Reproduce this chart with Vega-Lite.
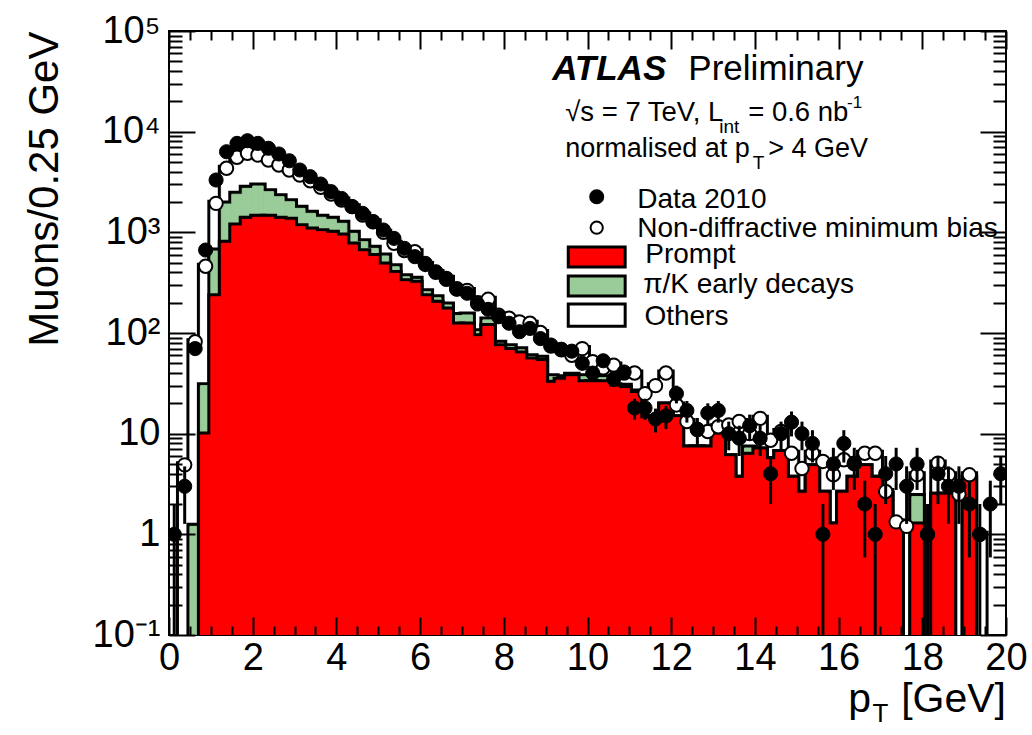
{
"$schema": "https://vega.github.io/schema/vega-lite/v6.json",
"width": 837, "height": 604,
"autosize": {"type": "none"},
"padding": {"left": 169, "top": 31, "right": 26, "bottom": 100},
"background": "white",
"config": {"view": {"stroke": "black", "strokeWidth": 2}, "font": "Liberation Sans", "text": {"font": "Liberation Sans", "color": "black"}},
"datasets": {"bins": [
{"lo":0,"hi":0.25,"c":0.125,"prompt":0,"prompt_pik":0,"mc":0,"data":1,"elo":0.1,"ehi":2},
{"lo":0.25,"hi":0.5,"c":0.375,"prompt":0,"prompt_pik":0,"mc":4.9,"data":3,"elo":1.27,"ehi":4.73},
{"lo":0.5,"hi":0.75,"c":0.625,"prompt":0,"prompt_pik":1.2,"mc":82,"data":70,"elo":61.6,"ehi":78.4},
{"lo":0.75,"hi":1,"c":0.875,"prompt":9.7,"prompt_pik":30,"mc":460,"data":667,"elo":641,"ehi":693},
{"lo":1,"hi":1.25,"c":1.125,"prompt":229,"prompt_pik":652,"mc":1940,"data":3310,"elo":3252,"ehi":3368},
{"lo":1.25,"hi":1.5,"c":1.375,"prompt":778,"prompt_pik":1910,"mc":4325,"data":6320,"elo":6240,"ehi":6400},
{"lo":1.5,"hi":1.75,"c":1.625,"prompt":1157,"prompt_pik":2390,"mc":5560,"data":7650,"elo":7563,"ehi":7737},
{"lo":1.75,"hi":2,"c":1.875,"prompt":1346,"prompt_pik":2735,"mc":6100,"data":8130,"elo":8040,"ehi":8220},
{"lo":2,"hi":2.25,"c":2.125,"prompt":1410,"prompt_pik":2885,"mc":5860,"data":7650,"elo":7563,"ehi":7737},
{"lo":2.25,"hi":2.5,"c":2.375,"prompt":1410,"prompt_pik":2535,"mc":5220,"data":6840,"elo":6757,"ehi":6923},
{"lo":2.5,"hi":2.75,"c":2.625,"prompt":1346,"prompt_pik":2260,"mc":4660,"data":6000,"elo":5923,"ehi":6077},
{"lo":2.75,"hi":3,"c":2.875,"prompt":1320,"prompt_pik":2014,"mc":4160,"data":5140,"elo":5068,"ehi":5212},
{"lo":3,"hi":3.25,"c":3.125,"prompt":1138,"prompt_pik":1730,"mc":3705,"data":4160,"elo":4096,"ehi":4224},
{"lo":3.25,"hi":3.5,"c":3.375,"prompt":1054,"prompt_pik":1544,"mc":3255,"data":3570,"elo":3510,"ehi":3630},
{"lo":3.5,"hi":3.75,"c":3.625,"prompt":1015,"prompt_pik":1410,"mc":2800,"data":3020,"elo":2965,"ehi":3075},
{"lo":3.75,"hi":4,"c":3.875,"prompt":977,"prompt_pik":1346,"mc":2405,"data":2535,"elo":2485,"ehi":2585},
{"lo":4,"hi":4.25,"c":4.125,"prompt":918,"prompt_pik":1230,"mc":2095,"data":2170,"elo":2123,"ehi":2217},
{"lo":4.25,"hi":4.5,"c":4.375,"prompt":748,"prompt_pik":977,"mc":1800,"data":1800,"elo":1758,"ehi":1842},
{"lo":4.5,"hi":4.75,"c":4.625,"prompt":641,"prompt_pik":807,"mc":1486,"data":1544,"elo":1505,"ehi":1583},
{"lo":4.75,"hi":5,"c":4.875,"prompt":576,"prompt_pik":693,"mc":1275,"data":1275,"elo":1239,"ehi":1311},
{"lo":5,"hi":5.25,"c":5.125,"prompt":473,"prompt_pik":582,"mc":1000,"data":1054,"elo":1022,"ehi":1086},
{"lo":5.25,"hi":5.5,"c":5.375,"prompt":391,"prompt_pik":455,"mc":778,"data":871,"elo":841,"ehi":901},
{"lo":5.5,"hi":5.75,"c":5.625,"prompt":323,"prompt_pik":362,"mc":660,"data":693,"elo":667,"ehi":719},
{"lo":5.75,"hi":6,"c":5.875,"prompt":312,"prompt_pik":341,"mc":641,"data":573,"elo":549,"ehi":597},
{"lo":6,"hi":6.25,"c":6.125,"prompt":229,"prompt_pik":257,"mc":480,"data":492,"elo":470,"ehi":514},
{"lo":6.25,"hi":6.5,"c":6.375,"prompt":197,"prompt_pik":224,"mc":400,"data":406,"elo":386,"ehi":426},
{"lo":6.5,"hi":6.75,"c":6.625,"prompt":169,"prompt_pik":190,"mc":349,"data":340,"elo":322,"ehi":358},
{"lo":6.75,"hi":7,"c":6.875,"prompt":120,"prompt_pik":149,"mc":275,"data":272,"elo":256,"ehi":288},
{"lo":7,"hi":7.25,"c":7.125,"prompt":120,"prompt_pik":151,"mc":265,"data":248,"elo":232,"ehi":264},
{"lo":7.25,"hi":7.5,"c":7.375,"prompt":92,"prompt_pik":103,"mc":200,"data":194,"elo":180,"ehi":208},
{"lo":7.5,"hi":7.75,"c":7.625,"prompt":116,"prompt_pik":135,"mc":216,"data":172,"elo":159,"ehi":185},
{"lo":7.75,"hi":8,"c":7.875,"prompt":73,"prompt_pik":79,"mc":150,"data":145,"elo":133,"ehi":157},
{"lo":8,"hi":8.25,"c":8.125,"prompt":67,"prompt_pik":73,"mc":140,"data":125,"elo":114,"ehi":136},
{"lo":8.25,"hi":8.5,"c":8.375,"prompt":62,"prompt_pik":68,"mc":129,"data":103,"elo":93,"ehi":113},
{"lo":8.5,"hi":8.75,"c":8.625,"prompt":54,"prompt_pik":58,"mc":125,"data":111,"elo":100.5,"ehi":121.5},
{"lo":8.75,"hi":9,"c":8.875,"prompt":52,"prompt_pik":56,"mc":101,"data":88,"elo":78.6,"ehi":97.4},
{"lo":9,"hi":9.25,"c":9.125,"prompt":31.6,"prompt_pik":36.8,"mc":74,"data":76,"elo":67.3,"ehi":84.7},
{"lo":9.25,"hi":9.5,"c":9.375,"prompt":34,"prompt_pik":36,"mc":68,"data":69,"elo":60.7,"ehi":77.3},
{"lo":9.5,"hi":9.75,"c":9.625,"prompt":36.8,"prompt_pik":38,"mc":60,"data":66,"elo":57.9,"ehi":74.1},
{"lo":9.75,"hi":10,"c":9.875,"prompt":32,"prompt_pik":36.8,"mc":70,"data":50,"elo":42.9,"ehi":57.1},
{"lo":10,"hi":10.25,"c":10.125,"prompt":32,"prompt_pik":34,"mc":52,"data":40,"elo":33.7,"ehi":46.3},
{"lo":10.25,"hi":10.5,"c":10.375,"prompt":32,"prompt_pik":36,"mc":45,"data":53,"elo":45.7,"ehi":60.3},
{"lo":10.5,"hi":10.75,"c":10.625,"prompt":29,"prompt_pik":30,"mc":48,"data":35,"elo":29.1,"ehi":40.9},
{"lo":10.75,"hi":11,"c":10.875,"prompt":28,"prompt_pik":29.5,"mc":40,"data":41,"elo":34.6,"ehi":47.4},
{"lo":11,"hi":11.25,"c":11.125,"prompt":25,"prompt_pik":26,"mc":40,"data":18,"elo":13.76,"ehi":22.24},
{"lo":11.25,"hi":11.5,"c":11.375,"prompt":14,"prompt_pik":14.5,"mc":25,"data":18,"elo":13.76,"ehi":22.24},
{"lo":11.5,"hi":11.75,"c":11.625,"prompt":14,"prompt_pik":14,"mc":30,"data":14,"elo":10.26,"ehi":17.74},
{"lo":11.75,"hi":12,"c":11.875,"prompt":19.3,"prompt_pik":19.3,"mc":40,"data":15,"elo":11.13,"ehi":18.87},
{"lo":12,"hi":12.25,"c":12.125,"prompt":14.4,"prompt_pik":14.4,"mc":19.3,"data":25,"elo":20,"ehi":30},
{"lo":12.25,"hi":12.5,"c":12.375,"prompt":7.2,"prompt_pik":7.2,"mc":13.2,"data":17,"elo":12.88,"ehi":21.12},
{"lo":12.5,"hi":12.75,"c":12.625,"prompt":7.2,"prompt_pik":7.2,"mc":11,"data":11,"elo":7.68,"ehi":14.32},
{"lo":12.75,"hi":13,"c":12.875,"prompt":7.2,"prompt_pik":7.2,"mc":10.5,"data":16,"elo":12,"ehi":20},
{"lo":13,"hi":13.25,"c":13.125,"prompt":9.7,"prompt_pik":9.7,"mc":11.7,"data":17,"elo":12.88,"ehi":21.12},
{"lo":13.25,"hi":13.5,"c":13.375,"prompt":5.9,"prompt_pik":5.9,"mc":12.2,"data":10,"elo":6.84,"ehi":13.16},
{"lo":13.5,"hi":13.75,"c":13.625,"prompt":3.6,"prompt_pik":3.6,"mc":13.2,"data":9,"elo":6,"ehi":12},
{"lo":13.75,"hi":14,"c":13.875,"prompt":6.1,"prompt_pik":7.2,"mc":10,"data":12,"elo":8.54,"ehi":15.46},
{"lo":14,"hi":14.25,"c":14.125,"prompt":6.9,"prompt_pik":6.9,"mc":14.2,"data":9,"elo":6,"ehi":12},
{"lo":14.25,"hi":14.5,"c":14.375,"prompt":5.5,"prompt_pik":5.5,"mc":8.6,"data":4,"elo":2,"ehi":6},
{"lo":14.5,"hi":14.75,"c":14.625,"prompt":6.5,"prompt_pik":6.5,"mc":10.5,"data":10,"elo":6.84,"ehi":13.16},
{"lo":14.75,"hi":15,"c":14.875,"prompt":3.6,"prompt_pik":3.6,"mc":6.4,"data":13,"elo":9.39,"ehi":16.61},
{"lo":15,"hi":15.25,"c":15.125,"prompt":2.56,"prompt_pik":2.56,"mc":4.5,"data":10,"elo":6.84,"ehi":13.16},
{"lo":15.25,"hi":15.5,"c":15.375,"prompt":4.7,"prompt_pik":4.7,"mc":6.4,"data":8,"elo":5.17,"ehi":10.83},
{"lo":15.5,"hi":15.75,"c":15.625,"prompt":2.56,"prompt_pik":2.56,"mc":5.3,"data":1,"elo":0.1,"ehi":2},
{"lo":15.75,"hi":16,"c":15.875,"prompt":1.24,"prompt_pik":1.24,"mc":3.9,"data":5,"elo":2.76,"ehi":7.24},
{"lo":16,"hi":16.25,"c":16.125,"prompt":2.56,"prompt_pik":2.56,"mc":5.5,"data":8,"elo":5.17,"ehi":10.83},
{"lo":16.25,"hi":16.5,"c":16.375,"prompt":3.6,"prompt_pik":3.6,"mc":5.1,"data":5,"elo":2.76,"ehi":7.24},
{"lo":16.5,"hi":16.75,"c":16.625,"prompt":4.7,"prompt_pik":4.7,"mc":6.4,"data":2,"elo":0.59,"ehi":3.41},
{"lo":16.75,"hi":17,"c":16.875,"prompt":3.6,"prompt_pik":3.6,"mc":6.4,"data":1,"elo":0.1,"ehi":2},
{"lo":17,"hi":17.25,"c":17.125,"prompt":2.5,"prompt_pik":2.5,"mc":2.66,"data":4,"elo":2,"ehi":6},
{"lo":17.25,"hi":17.5,"c":17.375,"prompt":1.29,"prompt_pik":1.29,"mc":1.33,"data":5,"elo":2.76,"ehi":7.24},
{"lo":17.5,"hi":17.75,"c":17.625,"prompt":0,"prompt_pik":0,"mc":1.2,"data":3,"elo":1.27,"ehi":4.73},
{"lo":17.75,"hi":18,"c":17.875,"prompt":1.24,"prompt_pik":2.37,"mc":3.9,"data":5,"elo":2.76,"ehi":7.24},
{"lo":18,"hi":18.25,"c":18.125,"prompt":0,"prompt_pik":0,"mc":1,"data":1,"elo":0.1,"ehi":2},
{"lo":18.25,"hi":18.5,"c":18.375,"prompt":2.45,"prompt_pik":2.45,"mc":5.1,"data":4,"elo":2,"ehi":6},
{"lo":18.5,"hi":18.75,"c":18.625,"prompt":2.45,"prompt_pik":2.45,"mc":3.9,"data":3,"elo":1.27,"ehi":4.73},
{"lo":18.75,"hi":19,"c":18.875,"prompt":0,"prompt_pik":0,"mc":2.5,"data":3,"elo":1.27,"ehi":4.73},
{"lo":19,"hi":19.25,"c":19.125,"prompt":3.6,"prompt_pik":3.6,"mc":3.9,"data":2,"elo":0.59,"ehi":3.41},
{"lo":19.25,"hi":19.5,"c":19.375,"prompt":0,"prompt_pik":0,"mc":1,"data":1,"elo":0.1,"ehi":2},
{"lo":19.5,"hi":19.75,"c":19.625,"prompt":0,"prompt_pik":0,"mc":0,"data":2,"elo":0.59,"ehi":3.41},
{"lo":19.75,"hi":20,"c":19.875,"prompt":0,"prompt_pik":0,"mc":0,"data":4,"elo":2,"ehi":6}
]},
"layer": [
{"data": {"name": "bins"}, "transform": [{"filter": "datum.mc > 0"}], "mark": {"type": "bar", "fill": "black", "stroke": "black", "strokeWidth": 7, "clip": true},
 "encoding": {
  "x": {"field": "lo", "type": "quantitative", "scale": {"domain": [0, 20], "nice": false, "zero": false},
   "axis": {"orient": "bottom", "values": [0,0.5,1,1.5,2,2.5,3,3.5,4,4.5,5,5.5,6,6.5,7,7.5,8,8.5,9,9.5,10,10.5,11,11.5,12,12.5,13,13.5,14,14.5,15,15.5,16,16.5,17,17.5,18,18.5,19,19.5,20],
    "tickSize": {"condition": {"test": "datum.value % 2 == 0", "value": -18}, "value": -9},
    "tickWidth": 2, "tickColor": "black", "domain": false, "grid": false, "title": null, "zindex": 1,
    "labelExpr": "datum.value % 2 == 0 ? format(datum.value, 'd') : ''", "labelFontSize": 38, "labelFont": "Liberation Sans", "labelColor": "black",
    "labelPadding": 22, "labelOverlap": false, "labelFlush": false, "labelBound": false}},
  "x2": {"field": "hi"},
  "y": {"field": "mc", "type": "quantitative", "scale": {"type": "log", "domain": [0.1, 100000], "nice": false},
   "axis": {"orient": "left", "values": [0.1,0.2,0.3,0.4,0.5,0.6,0.7,0.8,0.9,1,2,3,4,5,6,7,8,9,10,20,30,40,50,60,70,80,90,100,200,300,400,500,600,700,800,900,1000,2000,3000,4000,5000,6000,7000,8000,9000,10000,20000,30000,40000,50000,60000,70000,80000,90000,100000],
    "tickSize": {"condition": {"test": "datum.value == 0.1 || datum.value == 1 || datum.value == 10 || datum.value == 100 || datum.value == 1000 || datum.value == 10000 || datum.value == 100000", "value": -26}, "value": -13},
    "tickWidth": 2, "tickColor": "black", "domain": false, "grid": false, "zindex": 1,
    "labelExpr": "datum.value == 0.1 ? '10⁻¹' : datum.value == 1 ? '1' : datum.value == 10 ? '10' : datum.value == 100 ? '10²' : datum.value == 1000 ? '10³' : datum.value == 10000 ? '10⁴' : datum.value == 100000 ? '10⁵' : ''",
    "labelFontSize": 38, "labelFont": "Liberation Sans", "labelColor": "black", "labelPadding": 35, "labelOverlap": false, "labelFlush": false, "labelBound": false, "labelBaseline": "middle",
    "title": "Muons/0.25 GeV", "titleFont": "Liberation Sans", "titleFontSize": 42, "titleFontWeight": "normal", "titleColor": "black",
    "titleAnchor": "end", "titleAngle": -90, "titleAlign": "right", "titleBaseline": "alphabetic", "titleX": -112, "titleY": 0}},
  "y2": {"datum": 0.1}}},
{"data": {"name": "bins"}, "transform": [{"filter": "datum.mc > 0"}], "mark": {"type": "bar", "fill": "white", "stroke": "white", "strokeWidth": 1, "clip": true},
 "encoding": {
  "x": {"field": "lo", "type": "quantitative", "scale": {"domain": [0, 20], "nice": false, "zero": false},
   "axis": {"orient": "top", "values": [0,0.5,1,1.5,2,2.5,3,3.5,4,4.5,5,5.5,6,6.5,7,7.5,8,8.5,9,9.5,10,10.5,11,11.5,12,12.5,13,13.5,14,14.5,15,15.5,16,16.5,17,17.5,18,18.5,19,19.5,20],
    "tickSize": {"condition": {"test": "datum.value % 2 == 0", "value": -18}, "value": -9},
    "tickWidth": 2, "tickColor": "black", "domain": false, "grid": false, "title": null, "zindex": 1, "labels": false}},
  "x2": {"field": "hi"},
  "y": {"field": "mc", "type": "quantitative", "scale": {"type": "log", "domain": [0.1, 100000], "nice": false},
   "axis": {"orient": "right", "values": [0.1,0.2,0.3,0.4,0.5,0.6,0.7,0.8,0.9,1,2,3,4,5,6,7,8,9,10,20,30,40,50,60,70,80,90,100,200,300,400,500,600,700,800,900,1000,2000,3000,4000,5000,6000,7000,8000,9000,10000,20000,30000,40000,50000,60000,70000,80000,90000,100000],
    "tickSize": {"condition": {"test": "datum.value == 0.1 || datum.value == 1 || datum.value == 10 || datum.value == 100 || datum.value == 1000 || datum.value == 10000 || datum.value == 100000", "value": -26}, "value": -13},
    "tickWidth": 2, "tickColor": "black", "domain": false, "grid": false, "title": null, "zindex": 1, "labels": false}},
  "y2": {"datum": 0.1}}},
{"data": {"name": "bins"}, "transform": [{"filter": "datum.prompt_pik > 0"}], "mark": {"type": "bar", "fill": "black", "stroke": "black", "strokeWidth": 7, "clip": true},
 "encoding": {
  "x": {"field": "lo", "type": "quantitative", "scale": {"domain": [0, 20], "nice": false, "zero": false}, "axis": null},
  "x2": {"field": "hi"},
  "y": {"field": "prompt_pik", "type": "quantitative", "scale": {"type": "log", "domain": [0.1, 100000], "nice": false}, "axis": null},
  "y2": {"datum": 0.1}}},
{"data": {"name": "bins"}, "transform": [{"filter": "datum.prompt_pik > 0"}], "mark": {"type": "bar", "fill": "#99cc99", "stroke": "#99cc99", "strokeWidth": 1, "clip": true},
 "encoding": {
  "x": {"field": "lo", "type": "quantitative", "scale": {"domain": [0, 20], "nice": false, "zero": false}, "axis": null},
  "x2": {"field": "hi"},
  "y": {"field": "prompt_pik", "type": "quantitative", "scale": {"type": "log", "domain": [0.1, 100000], "nice": false}, "axis": null},
  "y2": {"datum": 0.1}}},
{"data": {"name": "bins"}, "transform": [{"filter": "datum.prompt > 0"}], "mark": {"type": "bar", "fill": "black", "stroke": "black", "strokeWidth": 7, "clip": true},
 "encoding": {
  "x": {"field": "lo", "type": "quantitative", "scale": {"domain": [0, 20], "nice": false, "zero": false}, "axis": null},
  "x2": {"field": "hi"},
  "y": {"field": "prompt", "type": "quantitative", "scale": {"type": "log", "domain": [0.1, 100000], "nice": false}, "axis": null},
  "y2": {"datum": 0.1}}},
{"data": {"name": "bins"}, "transform": [{"filter": "datum.prompt > 0"}], "mark": {"type": "bar", "fill": "#ff0000", "stroke": "#ff0000", "strokeWidth": 1, "clip": true},
 "encoding": {
  "x": {"field": "lo", "type": "quantitative", "scale": {"domain": [0, 20], "nice": false, "zero": false}, "axis": null},
  "x2": {"field": "hi"},
  "y": {"field": "prompt", "type": "quantitative", "scale": {"type": "log", "domain": [0.1, 100000], "nice": false}, "axis": null},
  "y2": {"datum": 0.1}}},
{"data": {"name": "bins"}, "transform": [{"filter": "datum.mc > 0"}], "mark": {"type": "point", "shape": "circle", "filled": true, "fill": "white", "stroke": "black", "strokeWidth": 2, "size": 180, "opacity": 1, "clip": true},
 "encoding": {
  "x": {"field": "c", "type": "quantitative", "scale": {"domain": [0, 20], "nice": false, "zero": false}, "axis": null},
  "y": {"field": "mc", "type": "quantitative", "scale": {"type": "log", "domain": [0.1, 100000], "nice": false}, "axis": null}}},
{"data": {"name": "bins"}, "mark": {"type": "rule", "color": "black", "strokeWidth": 3, "clip": true},
 "encoding": {
  "x": {"field": "c", "type": "quantitative", "scale": {"domain": [0, 20], "nice": false, "zero": false}, "axis": null},
  "y": {"field": "elo", "type": "quantitative", "scale": {"type": "log", "domain": [0.1, 100000], "nice": false}, "axis": null},
  "y2": {"field": "ehi"}}},
{"data": {"name": "bins"}, "transform": [{"filter": "datum.data > 0"}], "mark": {"type": "point", "shape": "circle", "filled": true, "fill": "black", "stroke": "black", "strokeWidth": 1, "size": 200, "opacity": 1, "clip": true},
 "encoding": {
  "x": {"field": "c", "type": "quantitative", "scale": {"domain": [0, 20], "nice": false, "zero": false}, "axis": null},
  "y": {"field": "data", "type": "quantitative", "scale": {"type": "log", "domain": [0.1, 100000], "nice": false}, "axis": null}}},
{"data": {"values": [{}]}, "mark": {"type": "point", "shape": "circle", "filled": true, "fill": "black", "stroke": "black", "size": 170, "opacity": 1},
 "encoding": {
  "x": {"datum": 10.22, "type": "quantitative", "scale": {"domain": [0, 20], "nice": false, "zero": false}, "axis": null},
  "y": {"datum": 2259, "type": "quantitative", "scale": {"type": "log", "domain": [0.1, 100000], "nice": false}, "axis": null}}},
{"data": {"values": [{}]}, "mark": {"type": "point", "shape": "circle", "filled": true, "fill": "white", "stroke": "black", "strokeWidth": 2, "size": 150, "opacity": 1},
 "encoding": {
  "x": {"datum": 10.22, "type": "quantitative", "scale": {"domain": [0, 20], "nice": false, "zero": false}, "axis": null},
  "y": {"datum": 1112, "type": "quantitative", "scale": {"type": "log", "domain": [0.1, 100000], "nice": false}, "axis": null}}},
{"data": {"values": [{}]}, "mark": {"type": "rect", "fill": "#ff0000", "stroke": "black", "strokeWidth": 3},
 "encoding": {
  "x": {"datum": 9.54, "type": "quantitative", "scale": {"domain": [0, 20], "nice": false, "zero": false}, "axis": null},
  "x2": {"datum": 10.9},
  "y": {"datum": 714, "type": "quantitative", "scale": {"type": "log", "domain": [0.1, 100000], "nice": false}, "axis": null},
  "y2": {"datum": 452}}},
{"data": {"values": [{}]}, "mark": {"type": "rect", "fill": "#99cc99", "stroke": "black", "strokeWidth": 3},
 "encoding": {
  "x": {"datum": 9.54, "type": "quantitative", "scale": {"domain": [0, 20], "nice": false, "zero": false}, "axis": null},
  "x2": {"datum": 10.9},
  "y": {"datum": 368, "type": "quantitative", "scale": {"type": "log", "domain": [0.1, 100000], "nice": false}, "axis": null},
  "y2": {"datum": 233}}},
{"data": {"values": [{}]}, "mark": {"type": "rect", "fill": "white", "stroke": "black", "strokeWidth": 3},
 "encoding": {
  "x": {"datum": 9.54, "type": "quantitative", "scale": {"domain": [0, 20], "nice": false, "zero": false}, "axis": null},
  "x2": {"datum": 10.9},
  "y": {"datum": 194, "type": "quantitative", "scale": {"type": "log", "domain": [0.1, 100000], "nice": false}, "axis": null},
  "y2": {"datum": 117}}},
{"data": {"values": [{}]}, "mark": {"type": "text", "text": "Data 2010", "align": "left", "baseline": "alphabetic", "fontSize": 28},
 "encoding": {
  "x": {"datum": 11.19, "type": "quantitative", "scale": {"domain": [0, 20], "nice": false, "zero": false}, "axis": null},
  "y": {"datum": 1744, "type": "quantitative", "scale": {"type": "log", "domain": [0.1, 100000], "nice": false}, "axis": null}}},
{"data": {"values": [{}]}, "mark": {"type": "text", "text": "Non-diffractive minimum bias", "align": "left", "baseline": "alphabetic", "fontSize": 28},
 "encoding": {
  "x": {"datum": 11.19, "type": "quantitative", "scale": {"domain": [0, 20], "nice": false, "zero": false}, "axis": null},
  "y": {"datum": 905, "type": "quantitative", "scale": {"type": "log", "domain": [0.1, 100000], "nice": false}, "axis": null}}},
{"data": {"values": [{}]}, "mark": {"type": "text", "text": "Prompt", "align": "left", "baseline": "alphabetic", "fontSize": 28},
 "encoding": {
  "x": {"datum": 11.38, "type": "quantitative", "scale": {"domain": [0, 20], "nice": false, "zero": false}, "axis": null},
  "y": {"datum": 499, "type": "quantitative", "scale": {"type": "log", "domain": [0.1, 100000], "nice": false}, "axis": null}}},
{"data": {"values": [{}]}, "mark": {"type": "text", "text": "π/K early decays", "align": "left", "baseline": "alphabetic", "fontSize": 28},
 "encoding": {
  "x": {"datum": 11.33, "type": "quantitative", "scale": {"domain": [0, 20], "nice": false, "zero": false}, "axis": null},
  "y": {"datum": 251, "type": "quantitative", "scale": {"type": "log", "domain": [0.1, 100000], "nice": false}, "axis": null}}},
{"data": {"values": [{}]}, "mark": {"type": "text", "text": "Others", "align": "left", "baseline": "alphabetic", "fontSize": 28},
 "encoding": {
  "x": {"datum": 11.36, "type": "quantitative", "scale": {"domain": [0, 20], "nice": false, "zero": false}, "axis": null},
  "y": {"datum": 120, "type": "quantitative", "scale": {"type": "log", "domain": [0.1, 100000], "nice": false}, "axis": null}}},
{"data": {"values": [{}]}, "mark": {"type": "text", "text": "ATLAS", "align": "left", "baseline": "alphabetic", "fontSize": 35, "fontStyle": "italic", "fontWeight": "bold"},
 "encoding": {
  "x": {"datum": 9.156, "type": "quantitative", "scale": {"domain": [0, 20], "nice": false, "zero": false}, "axis": null},
  "y": {"datum": 32600, "type": "quantitative", "scale": {"type": "log", "domain": [0.1, 100000], "nice": false}, "axis": null}}},
{"data": {"values": [{}]}, "mark": {"type": "text", "text": "Preliminary", "align": "left", "baseline": "alphabetic", "fontSize": 35},
 "encoding": {
  "x": {"datum": 12.41, "type": "quantitative", "scale": {"domain": [0, 20], "nice": false, "zero": false}, "axis": null},
  "y": {"datum": 32600, "type": "quantitative", "scale": {"type": "log", "domain": [0.1, 100000], "nice": false}, "axis": null}}},
{"data": {"values": [{}]}, "mark": {"type": "text", "text": "√s = 7 TeV, L", "align": "left", "baseline": "alphabetic", "fontSize": 27.5},
 "encoding": {
  "x": {"datum": 9.467, "type": "quantitative", "scale": {"domain": [0, 20], "nice": false, "zero": false}, "axis": null},
  "y": {"datum": 12760, "type": "quantitative", "scale": {"type": "log", "domain": [0.1, 100000], "nice": false}, "axis": null}}},
{"data": {"values": [{}]}, "mark": {"type": "text", "text": "int", "align": "left", "baseline": "alphabetic", "fontSize": 19},
 "encoding": {
  "x": {"datum": 13.15, "type": "quantitative", "scale": {"domain": [0, 20], "nice": false, "zero": false}, "axis": null},
  "y": {"datum": 9630, "type": "quantitative", "scale": {"type": "log", "domain": [0.1, 100000], "nice": false}, "axis": null}}},
{"data": {"values": [{}]}, "mark": {"type": "text", "text": "= 0.6 nb", "align": "left", "baseline": "alphabetic", "fontSize": 27.5},
 "encoding": {
  "x": {"datum": 13.84, "type": "quantitative", "scale": {"domain": [0, 20], "nice": false, "zero": false}, "axis": null},
  "y": {"datum": 12760, "type": "quantitative", "scale": {"type": "log", "domain": [0.1, 100000], "nice": false}, "axis": null}}},
{"data": {"values": [{}]}, "mark": {"type": "text", "text": "-1", "align": "left", "baseline": "alphabetic", "fontSize": 17},
 "encoding": {
  "x": {"datum": 16.2, "type": "quantitative", "scale": {"domain": [0, 20], "nice": false, "zero": false}, "axis": null},
  "y": {"datum": 17060, "type": "quantitative", "scale": {"type": "log", "domain": [0.1, 100000], "nice": false}, "axis": null}}},
{"data": {"values": [{}]}, "mark": {"type": "text", "text": "normalised at p", "align": "left", "baseline": "alphabetic", "fontSize": 27},
 "encoding": {
  "x": {"datum": 9.467, "type": "quantitative", "scale": {"domain": [0, 20], "nice": false, "zero": false}, "axis": null},
  "y": {"datum": 5563, "type": "quantitative", "scale": {"type": "log", "domain": [0.1, 100000], "nice": false}, "axis": null}}},
{"data": {"values": [{}]}, "mark": {"type": "text", "text": "T", "align": "left", "baseline": "alphabetic", "fontSize": 19},
 "encoding": {
  "x": {"datum": 13.95, "type": "quantitative", "scale": {"domain": [0, 20], "nice": false, "zero": false}, "axis": null},
  "y": {"datum": 4227, "type": "quantitative", "scale": {"type": "log", "domain": [0.1, 100000], "nice": false}, "axis": null}}},
{"data": {"values": [{}]}, "mark": {"type": "text", "text": "> 4 GeV", "align": "left", "baseline": "alphabetic", "fontSize": 27},
 "encoding": {
  "x": {"datum": 14.32, "type": "quantitative", "scale": {"domain": [0, 20], "nice": false, "zero": false}, "axis": null},
  "y": {"datum": 5563, "type": "quantitative", "scale": {"type": "log", "domain": [0.1, 100000], "nice": false}, "axis": null}}},
{"data": {"values": [{}]}, "mark": {"type": "text", "text": "[GeV]", "align": "right", "baseline": "alphabetic", "fontSize": 41},
 "encoding": {
  "x": {"datum": 20, "type": "quantitative", "scale": {"domain": [0, 20], "nice": false, "zero": false}, "axis": null},
  "y": {"datum": 0.01718, "type": "quantitative", "scale": {"type": "log", "domain": [0.1, 100000], "nice": false}, "axis": null}}},
{"data": {"values": [{}]}, "mark": {"type": "text", "text": "p", "align": "left", "baseline": "alphabetic", "fontSize": 41},
 "encoding": {
  "x": {"datum": 16.23, "type": "quantitative", "scale": {"domain": [0, 20], "nice": false, "zero": false}, "axis": null},
  "y": {"datum": 0.01718, "type": "quantitative", "scale": {"type": "log", "domain": [0.1, 100000], "nice": false}, "axis": null}}},
{"data": {"values": [{}]}, "mark": {"type": "text", "text": "T", "align": "left", "baseline": "alphabetic", "fontSize": 26},
 "encoding": {
  "x": {"datum": 16.81, "type": "quantitative", "scale": {"domain": [0, 20], "nice": false, "zero": false}, "axis": null},
  "y": {"datum": 0.01368, "type": "quantitative", "scale": {"type": "log", "domain": [0.1, 100000], "nice": false}, "axis": null}}}
],
"resolve": {"axis": {"x": "independent", "y": "independent"}}
}
